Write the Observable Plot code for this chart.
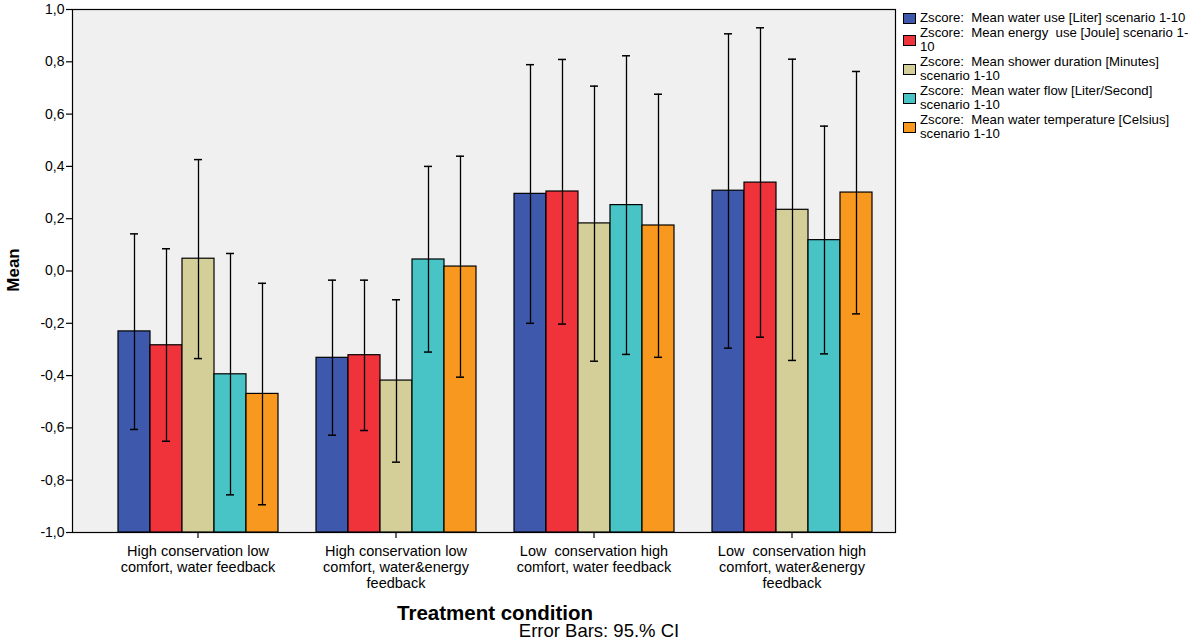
<!DOCTYPE html>
<html><head><meta charset="utf-8">
<script src="https://cdn.jsdelivr.net/npm/d3@7"></script>
<script src="https://cdn.jsdelivr.net/npm/@observablehq/plot@0.6"></script>
<style>
body{margin:0;background:#fff;font-family:"Liberation Sans",Arial,sans-serif;color:#000;}
#wrap{position:relative;width:1190px;height:642px;overflow:hidden;}
.layer{position:absolute;left:0;top:0;}
#legend{position:absolute;left:903px;top:11px;font-size:13.2px;line-height:14.5px;}
.item{display:flex;align-items:center;margin-bottom:0px;}
.sw{width:11px;height:9px;border:1px solid #000;margin-right:4px;flex:none;}
.lbl{white-space:pre;}
.ttl{position:absolute;white-space:nowrap;}
</style></head><body>
<div id="wrap"><div id="back" class="layer"></div><div id="chart" class="layer"></div><div id="legend"></div>
<div class="ttl" style="left:-16px;top:270px;font-weight:bold;font-size:17px;transform:translate(0,-50%) rotate(-90deg);transform-origin:center;width:60px;text-align:center;">Mean</div>
<div class="ttl" style="left:495px;top:601px;transform:translateX(-50%);font-weight:bold;font-size:20.5px;">Treatment condition</div>
<div class="ttl" style="left:599px;top:620px;transform:translateX(-50%);font-size:18.5px;">Error Bars: 95.% CI</div>
</div>
<script>
const groups = [
  "High conservation low comfort, water feedback",
  "High conservation low comfort, water&energy feedback",
  "Low conservation high comfort, water feedback",
  "Low conservation high comfort, water&energy feedback"
];
const groupTickLabels = [
  "High conservation low\ncomfort, water feedback",
  "High conservation low\ncomfort, water&energy\nfeedback",
  "Low  conservation high\ncomfort, water feedback",
  "Low  conservation high\ncomfort, water&energy\nfeedback"
];
const series = [
  "Zscore:  Mean water use [Liter] scenario 1-10",
  "Zscore:  Mean energy  use [Joule] scenario 1-10",
  "Zscore:  Mean shower duration [Minutes] scenario 1-10",
  "Zscore:  Mean water flow [Liter/Second] scenario 1-10",
  "Zscore:  Mean water temperature [Celsius] scenario 1-10"
];
const legendLabels = [
  "Zscore:  Mean water use [Liter] scenario 1-10",
  "Zscore:  Mean energy  use [Joule] scenario 1-\n10",
  "Zscore:  Mean shower duration [Minutes]\nscenario 1-10",
  "Zscore:  Mean water flow [Liter/Second]\nscenario 1-10",
  "Zscore:  Mean water temperature [Celsius]\nscenario 1-10"
];
const colors = ["#3e58ac", "#f0323b", "#d4cf98", "#48c3c6", "#f9981e"];

// means per series, across the 4 groups
const meanWaterUse    = [-0.231, -0.332, 0.295, 0.307];
const meanEnergyUse   = [-0.284, -0.322, 0.304, 0.338];
const meanDuration    = [ 0.047, -0.419, 0.182, 0.234];
const meanFlow        = [-0.395,  0.044, 0.252, 0.118];
const meanTemperature = [-0.470,  0.017, 0.174, 0.300];
// 95% CI lower bounds
const loWaterUse    = [-0.606, -0.628, -0.200, -0.295];
const loEnergyUse   = [-0.651, -0.610, -0.203, -0.253];
const loDuration    = [-0.335, -0.731, -0.345, -0.342];
const loFlow        = [-0.856, -0.310, -0.319, -0.317];
const loTemperature = [-0.894, -0.406, -0.330, -0.164];
// 95% CI upper bounds
const hiWaterUse    = [0.142, -0.035, 0.789, 0.907];
const hiEnergyUse   = [0.085, -0.035, 0.809, 0.930];
const hiDuration    = [0.426, -0.110, 0.707, 0.810];
const hiFlow        = [0.067,  0.400, 0.823, 0.554];
const hiTemperature = [-0.047, 0.439, 0.676, 0.763];

const yTicks = [-1.0, -0.8, -0.6, -0.4, -0.2, 0.0, 0.2, 0.4, 0.6, 0.8, 1.0];
const yMin = -1.0, yMax = 1.0;

const meansAll = [meanWaterUse, meanEnergyUse, meanDuration, meanFlow, meanTemperature];
const losAll = [loWaterUse, loEnergyUse, loDuration, loFlow, loTemperature];
const hisAll = [hiWaterUse, hiEnergyUse, hiDuration, hiFlow, hiTemperature];

const data = [];
series.forEach((s, i) => groups.forEach((g, j) => data.push({
  group: g, series: s, mean: meansAll[i][j], lo: losAll[i][j], hi: hisAll[i][j]
})));

const fmt = d => d.toFixed(1).replace(".", ",");
const common = {
  width: 1190, height: 642,
  marginTop: 9, marginBottom: 110, marginLeft: 72, marginRight: 295,
  style: {fontFamily: "'Liberation Sans', Arial, sans-serif", fontSize: "13px", background: "transparent", color: "#000", overflow: "visible"}
};

// background layer: plot frame and value axis
const back = Plot.plot({
  ...common,
  y: {domain: [yMin, yMax], label: null},
  marks: [
    Plot.frame({fill: "#f0f0f0", stroke: "#000", strokeWidth: 1.2}),
    Plot.axisY({ticks: yTicks, tickFormat: fmt, tickSize: 6, tickPadding: 2, fontSize: 14, label: null, strokeWidth: 1.2})
  ]
});
document.getElementById("back").appendChild(back);

// foreground layer: grouped bars with 95% CI error bars
const chart = Plot.plot({
  ...common,
  y: {domain: [yMin, yMax], label: null, axis: null},
  fx: {domain: groups, range: [98, 891], paddingInner: 0.188, paddingOuter: 0.094, label: null},
  x: {domain: series, padding: 0, axis: null},
  color: {domain: series, range: colors},
  marks: [
    Plot.barY(data, {fx: "group", x: "series", y1: () => yMin, y2: "mean", fill: "series", stroke: "#000", strokeWidth: 1.2}),
    Plot.ruleX(data, {fx: "group", x: "series", y1: "lo", y2: "hi", stroke: "#000", strokeWidth: 1.3}),
    Plot.tickY(data, {fx: "group", x: "series", y: "hi", insetLeft: 12, insetRight: 12, stroke: "#000", strokeWidth: 1.5}),
    Plot.tickY(data, {fx: "group", x: "series", y: "lo", insetLeft: 12, insetRight: 12, stroke: "#000", strokeWidth: 1.5}),
    Plot.axisFx({anchor: "bottom", tickFormat: g => groupTickLabels[groups.indexOf(g)], tickSize: 6, tickPadding: 6, fontSize: 14.5, lineHeight: 1.1, label: null, strokeWidth: 1.2})
  ]
});
document.getElementById("chart").appendChild(chart);

const legend = document.getElementById("legend");
series.forEach((s, i) => {
  const item = document.createElement("div");
  item.className = "item";
  const sw = document.createElement("div");
  sw.className = "sw";
  sw.style.background = colors[i];
  const lb = document.createElement("div");
  lb.className = "lbl";
  lb.textContent = legendLabels[i];
  item.appendChild(sw); item.appendChild(lb);
  legend.appendChild(item);
});
</script>
</body></html>
